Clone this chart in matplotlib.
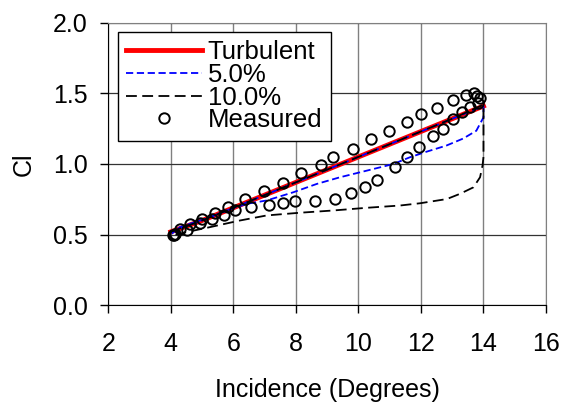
import numpy as np
import matplotlib.pyplot as plt
from matplotlib.ticker import FormatStrFormatter

plt.rc('font', family=['Liberation Sans', 'DejaVu Sans'])

# Turbulent (fully turbulent prediction)
alpha_turb = [4, 5, 6, 7, 8, 9, 10, 11, 12, 13, 14]
cl_turb = [0.52, 0.60, 0.69, 0.78, 0.87, 0.96, 1.05, 1.14, 1.23, 1.32, 1.41]

# 5.0% - loop: up along the turbulent curve, return on lower branch
alpha_5 = [4, 5, 6, 7, 8, 9, 10, 11, 12, 13, 14,
           14.0, 13.77, 13.35, 12.81, 12.18, 11.64, 11.12, 10.27, 9.41,
           8.67, 7.92, 7.07, 6.43, 5.79, 4.93, 4.29, 4.03]
cl_5 = [0.52, 0.60, 0.69, 0.78, 0.87, 0.96, 1.05, 1.14, 1.23, 1.32, 1.41,
        1.33, 1.235, 1.18, 1.13, 1.087, 1.047, 1.0, 0.953, 0.906,
        0.859, 0.80, 0.742, 0.718, 0.671, 0.60, 0.553, 0.507]

# 10.0%
alpha_10 = [4, 5, 6, 7, 8, 9, 10, 11, 12, 13, 14,
            14.0, 14.0, 13.97, 13.89, 13.68, 13.25, 12.83, 11.97, 11.33,
            10.27, 9.2, 8.13, 7.07, 6.21, 5.25, 4.5, 4.08]
cl_10 = [0.52, 0.60, 0.69, 0.78, 0.87, 0.96, 1.05, 1.14, 1.23, 1.32, 1.42,
         1.18, 1.05, 0.99, 0.906, 0.835, 0.789, 0.752, 0.722, 0.706,
         0.69, 0.671, 0.655, 0.636, 0.60, 0.553, 0.518, 0.495]

# Measured (upstroke then downstroke)
alpha_meas = [4.08, 4.12, 4.29, 4.61, 4.99, 5.41, 5.84, 6.37, 6.99, 7.58, 8.16,
              8.79, 9.18, 9.84, 10.40, 10.98, 11.55, 12.0, 12.51, 13.02, 13.44,
              13.71, 13.78, 13.89,
              13.83, 13.57, 13.31, 13.04, 12.72, 12.38, 11.94, 11.55, 11.17,
              10.59, 10.21, 9.76, 9.25, 8.61, 7.97, 7.58, 7.15, 6.56, 6.05,
              5.70, 5.31, 4.93, 4.53, 4.11]
cl_meas = [0.495, 0.505, 0.542, 0.573, 0.613, 0.655, 0.699, 0.753, 0.812, 0.866, 0.936,
           0.995, 1.051, 1.106, 1.176, 1.23, 1.30, 1.356, 1.399, 1.455, 1.486,
           1.50, 1.481, 1.469,
           1.434, 1.404, 1.37, 1.317, 1.246, 1.199, 1.117, 1.047, 0.981,
           0.889, 0.84, 0.796, 0.749, 0.737, 0.737, 0.723, 0.713, 0.695, 0.671,
           0.636, 0.613, 0.582, 0.53, 0.495]

fs = 18

fig = plt.figure(figsize=(5.65, 4.07), dpi=100)
ax = fig.add_subplot(111)
fig.subplots_adjust(left=0.1917, right=0.9664, top=0.9443, bottom=0.2499)

ax.plot(alpha_turb, cl_turb, color='red', lw=3.5, label='Turbulent', zorder=3)
ax.plot(alpha_5, cl_5, color='blue', lw=1.3, dashes=(4, 2), label='5.0%', zorder=4)
ax.plot(alpha_10, cl_10, color='black', lw=1.3, dashes=(6, 3), label='10.0%', zorder=4)
ax.plot(alpha_meas, cl_meas, 'o', mfc='none', mec='black', ms=7.5, mew=1.4,
        label='Measured', zorder=5)

ax.set_xlim(2, 16)
ax.set_ylim(0, 2)
ax.set_xticks(np.arange(2, 17, 2))
ax.set_yticks(np.arange(0, 2.01, 0.5))
ax.yaxis.set_major_formatter(FormatStrFormatter('%.1f'))
ax.tick_params(axis='both', labelsize=fs, direction='out', length=6, width=1)
ax.tick_params(axis='x', pad=13)
ax.tick_params(axis='y', pad=9)

ax.xaxis.grid(True, color='#808080', lw=1)
ax.yaxis.grid(True, color='#333333', lw=0.9)
ax.set_axisbelow(True)
for s in ['top', 'right']:
    ax.spines[s].set_color('#808080')
for s in ['left', 'bottom']:
    ax.spines[s].set_color('black')

ax.set_xlabel('Incidence (Degrees)', fontsize=fs, labelpad=16)
ax.set_ylabel('Cl', fontsize=fs, labelpad=12)

leg = ax.legend(loc='upper left', bbox_to_anchor=(0.022, 0.967), fontsize=18.5,
                frameon=True, fancybox=False, framealpha=1, edgecolor='black',
                handlelength=2.95, handletextpad=0.23, labelspacing=-0.05,
                borderpad=0.32, borderaxespad=0, numpoints=1)
leg.get_frame().set_linewidth(1)

fig.savefig('out.png', dpi=100)
